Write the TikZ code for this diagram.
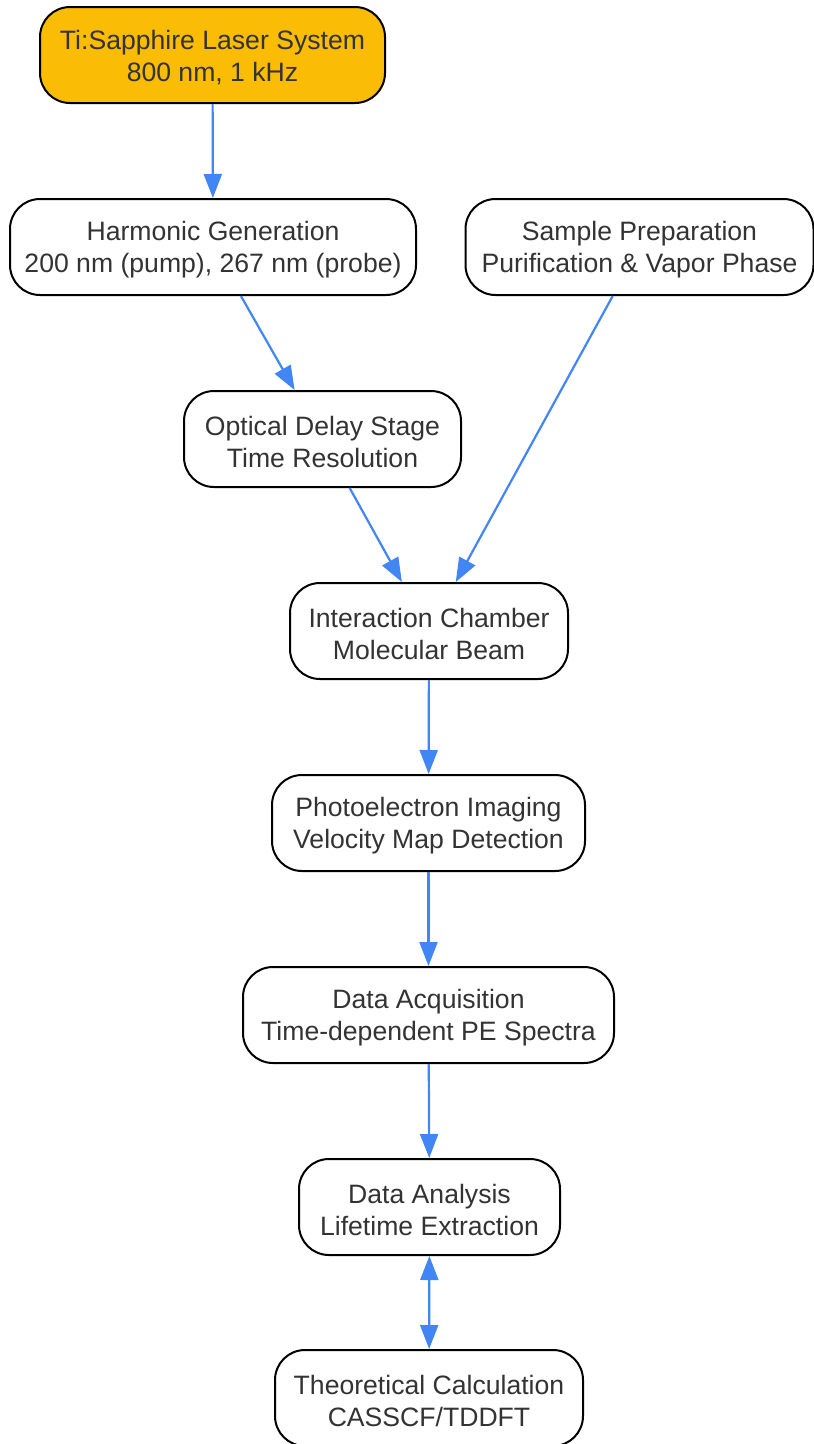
\documentclass[tikz,border=0pt]{standalone}
\usepackage{fontspec}
\setmainfont{Liberation Sans}
\usepackage{tikz}
\usetikzlibrary{arrows.meta}
\definecolor{laserorange}{HTML}{FBBC05}
\definecolor{flowblue}{HTML}{4285F4}
\definecolor{textgray}{HTML}{333333}
\begin{document}
\begin{tikzpicture}[x=1pt,y=-1pt,
  stage/.style={draw=black,line width=2pt,fill=white,rounded corners=30pt,align=center,
    text=textgray,inner sep=2pt,minimum height=96pt,text height=57pt,font=\fontsize{26.6}{32}\selectfont},
  flow/.style={draw=flowblue,line width=2.2pt,-{Triangle[length=24pt,width=18pt]}}]
\useasboundingbox (0,0) rectangle (814,1444);
\node [stage,fill=laserorange,minimum width=345pt] (laser) at (212.5,55) {Ti:Sapphire Laser System\\800 nm, 1 kHz};
\node [stage,minimum width=406pt] (harmonic) at (213,247) {Harmonic Generation\\200 nm (pump), 267 nm (probe)};
\node [stage,minimum width=348pt] (sample) at (639.5,247) {Sample Preparation\\Purification \& Vapor Phase};
\node [stage,minimum width=277pt] (delay) at (322.5,439) {Optical Delay Stage\\Time Resolution};
\node [stage,minimum width=278pt] (chamber) at (429,631) {Interaction Chamber\\Molecular Beam};
\node [stage,minimum width=313pt] (imaging) at (428.5,823) {Photoelectron Imaging\\Velocity Map Detection};
\node [stage,minimum width=371pt] (acquisition) at (428.5,1015) {Data Acquisition\\Time-dependent PE Spectra};
\node [stage,minimum width=261pt] (analysis) at (429.5,1207) {Data Analysis\\Lifetime Extraction};
\node [stage,minimum width=308pt] (theory) at (429,1398) {Theoretical Calculation\\CASSCF/TDDFT};
\draw [flow] (laser) -- (harmonic);
\draw [flow] (harmonic) -- (delay);
\draw [flow] (delay) -- (chamber);
\draw [flow] (sample) -- (chamber);
\draw [flow] (chamber) -- (imaging);
\draw [flow] (imaging) -- (acquisition);
\draw [flow] (acquisition) -- (analysis);
\draw [flow,{Triangle[length=24pt,width=18pt]}-{Triangle[length=24pt,width=18pt]}] (analysis) -- (theory);
\end{tikzpicture}
\end{document}
